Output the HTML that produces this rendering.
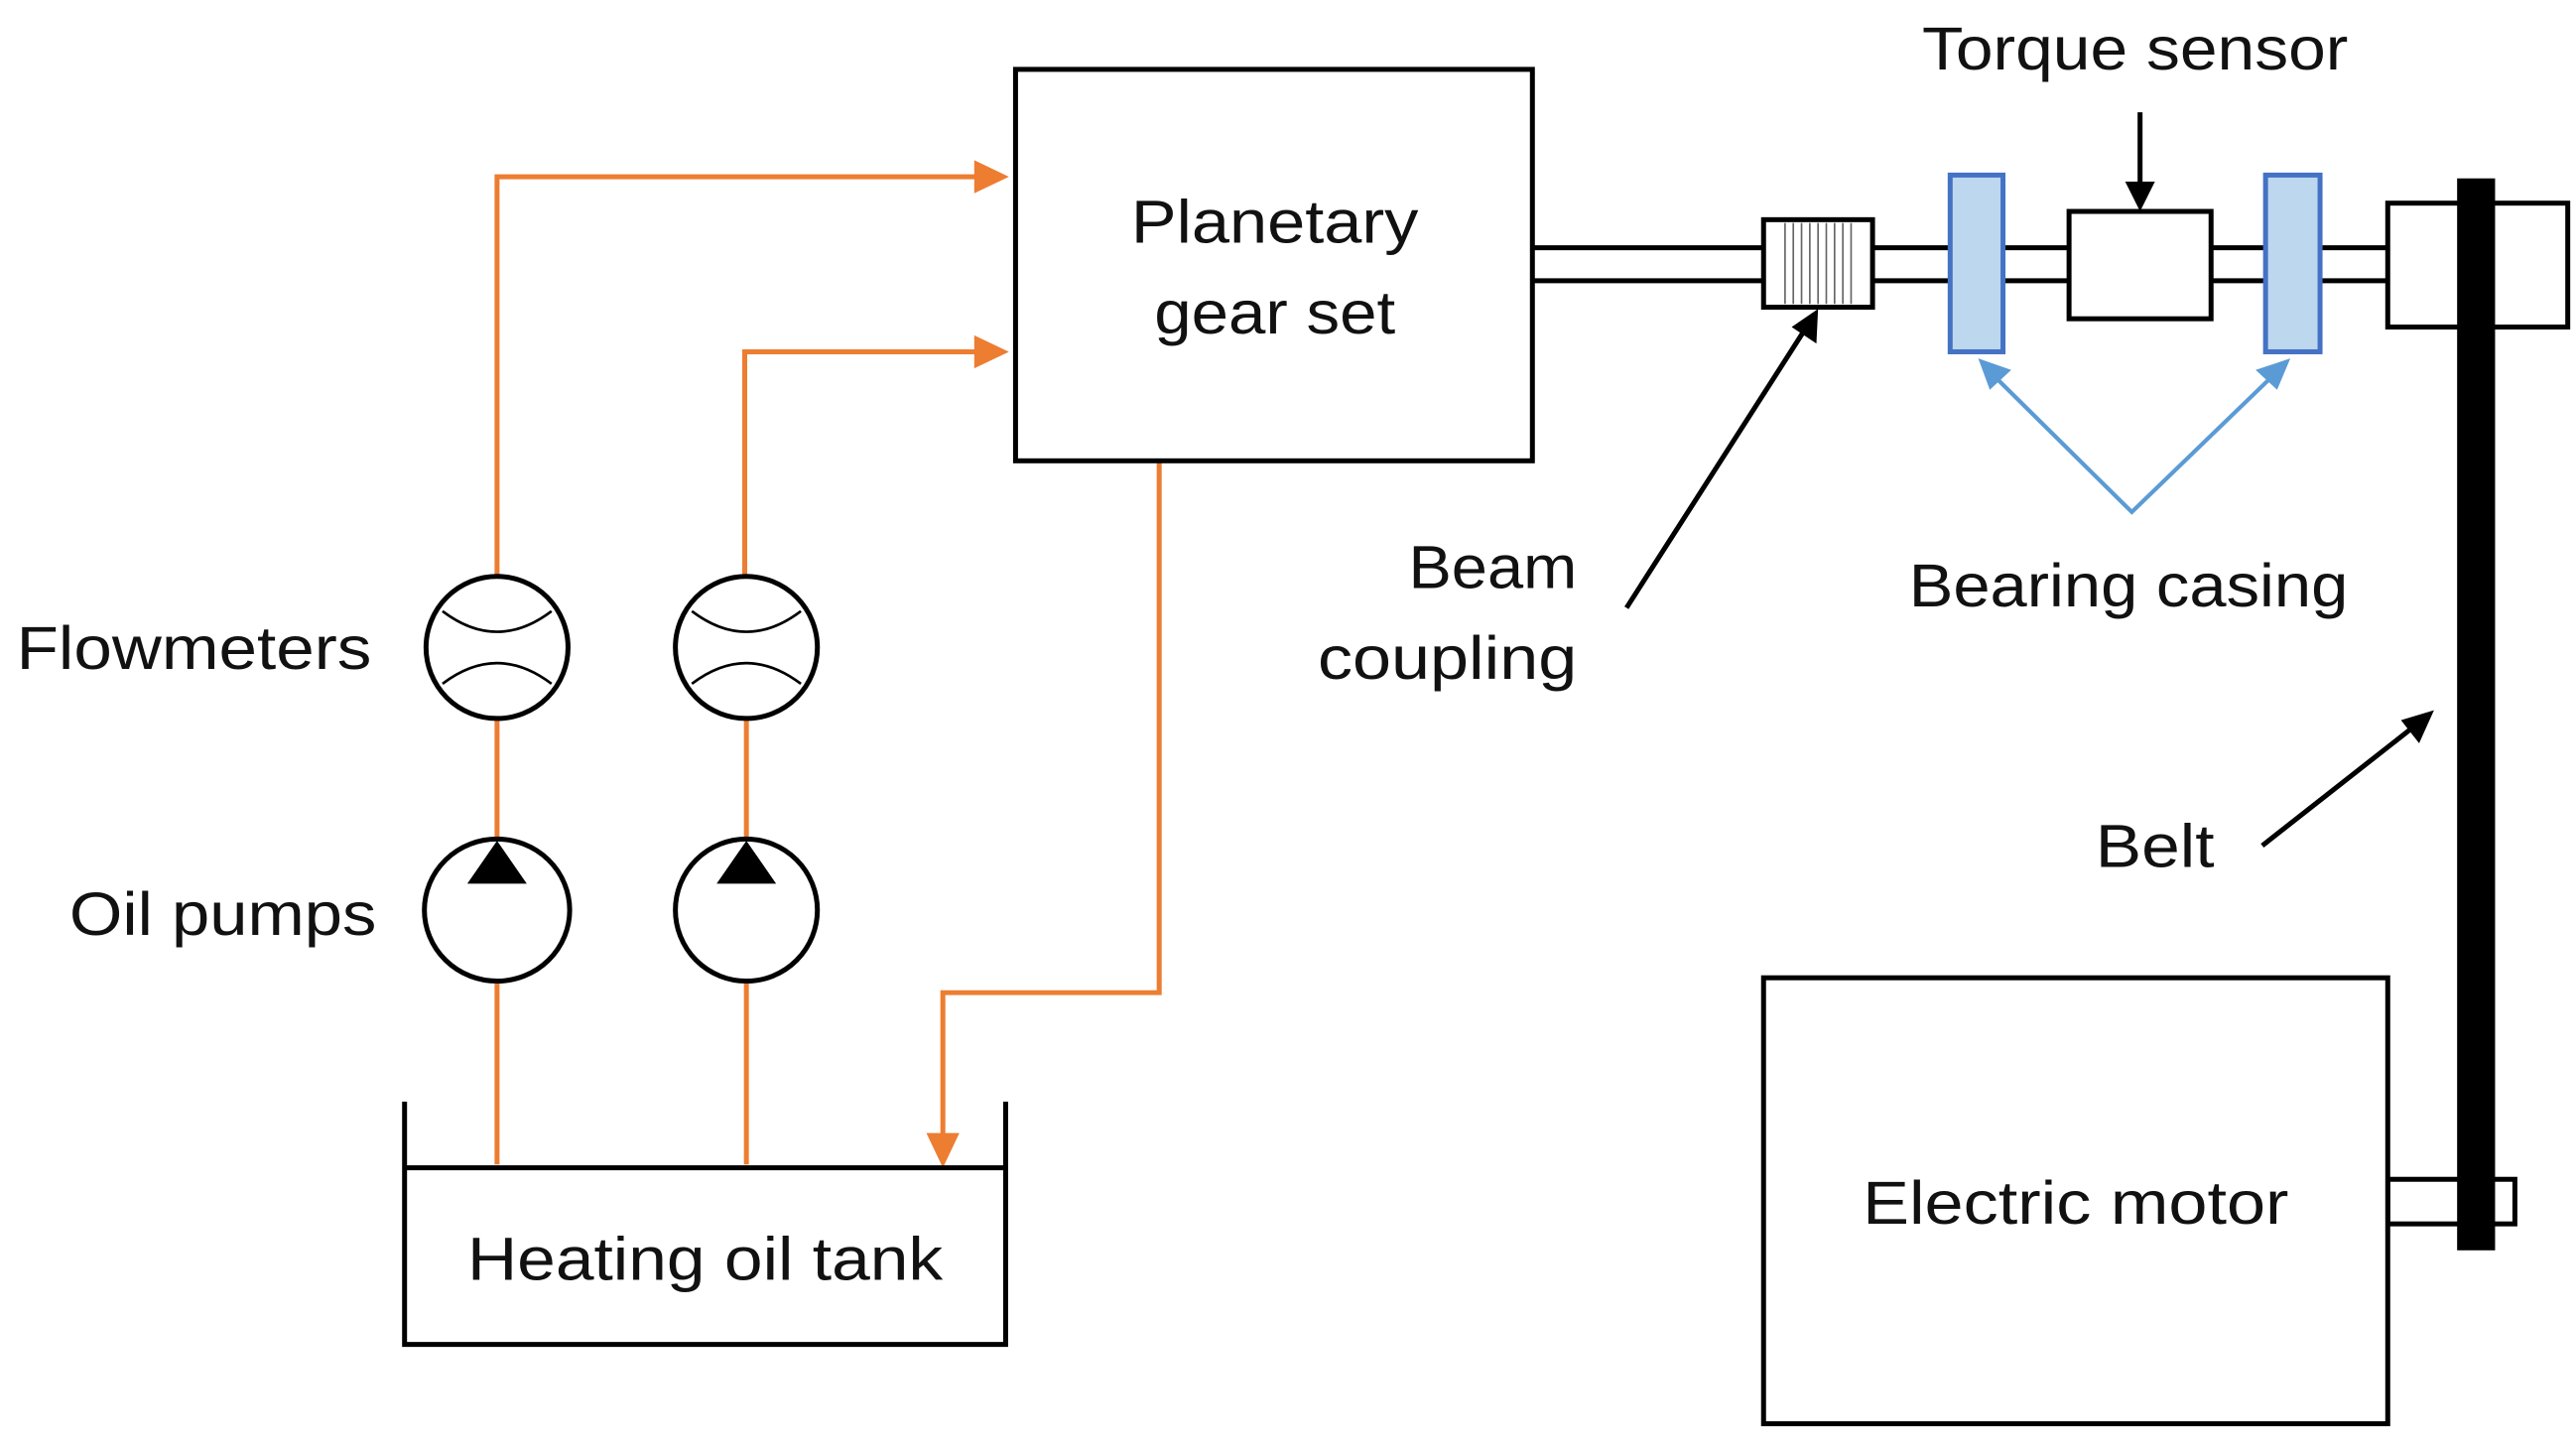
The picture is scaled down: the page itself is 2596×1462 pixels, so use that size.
<!DOCTYPE html>
<html><head><meta charset="utf-8"><style>html,body{margin:0;padding:0;background:#fff}svg{display:block}</style></head>
<body>
<svg width="2596" height="1462" viewBox="0 0 1560 878.5" preserveAspectRatio="none" xmlns="http://www.w3.org/2000/svg" font-family="Liberation Sans, sans-serif" font-size="37" fill="#111">
<rect width="1560" height="879" fill="#fff"/>
<g stroke="#ed7d31" stroke-width="3" fill="none">
<polyline points="301,348 301,107 592,107"/>
<polyline points="451,348 451,213 592,213"/>
<polyline points="702,279 702,601 571,601 571,688"/>
<line x1="301" y1="435" x2="301" y2="507"/>
<line x1="452" y1="435" x2="452" y2="507"/>
<line x1="301" y1="595" x2="301" y2="705"/>
<line x1="452" y1="595" x2="452" y2="705"/>
</g>
<g fill="#ed7d31">
<polygon points="611,107 590,97 590,117"/>
<polygon points="611,213 590,203 590,223"/>
<polygon points="571,707 561,686 581,686"/>
</g>
<rect x="615" y="42" width="313" height="237" fill="none" stroke="#000" stroke-width="3"/>
<text x="772" y="147" text-anchor="middle" textLength="174" lengthAdjust="spacingAndGlyphs">Planetary</text>
<text x="772" y="202" text-anchor="middle" textLength="146" lengthAdjust="spacingAndGlyphs">gear set</text>
<g stroke="#000" stroke-width="3" fill="#fff">
<ellipse cx="301" cy="392" rx="43" ry="43"/>
<ellipse cx="452" cy="392" rx="43" ry="43"/>
<ellipse cx="301" cy="551" rx="44" ry="43"/>
<ellipse cx="452" cy="551" rx="43" ry="43"/>
</g>
<g stroke="#000" stroke-width="1.6" fill="none">
<path d="M268,370 Q301,395 334,370"/><path d="M268,414 Q301,389 334,414"/>
<path d="M419,370 Q452,395 485,370"/><path d="M419,414 Q452,389 485,414"/>
</g>
<polygon points="301,509 283,535 319,535" fill="#000"/>
<polygon points="452,509 434,535 470,535" fill="#000"/>
<text x="225" y="405" text-anchor="end" textLength="215" lengthAdjust="spacingAndGlyphs">Flowmeters</text>
<text x="228" y="566" text-anchor="end" textLength="186" lengthAdjust="spacingAndGlyphs">Oil pumps</text>
<g stroke="#000" stroke-width="3" fill="none">
<polyline points="245,667 245,814 609,814 609,667"/>
<line x1="245" y1="707" x2="609" y2="707"/>
</g>
<text x="427" y="775" text-anchor="middle" textLength="288" lengthAdjust="spacingAndGlyphs">Heating oil tank</text>
<g stroke="#000" stroke-width="3" fill="none">
<line x1="928" y1="150" x2="1446" y2="150"/>
<line x1="928" y1="170" x2="1446" y2="170"/>
</g>
<rect x="1068" y="133" width="66" height="53" fill="#fff" stroke="#000" stroke-width="3"/>
<g stroke="#666" stroke-width="1">
<line x1="1081" y1="135" x2="1081" y2="184"/><line x1="1086" y1="135" x2="1086" y2="184"/><line x1="1091" y1="135" x2="1091" y2="184"/><line x1="1096" y1="135" x2="1096" y2="184"/><line x1="1101" y1="135" x2="1101" y2="184"/><line x1="1106" y1="135" x2="1106" y2="184"/><line x1="1111" y1="135" x2="1111" y2="184"/><line x1="1116" y1="135" x2="1116" y2="184"/><line x1="1121" y1="135" x2="1121" y2="184"/>
</g>
<rect x="1181" y="106" width="32" height="107" fill="#bdd7ee" stroke="#4472c4" stroke-width="3"/>
<rect x="1372" y="106" width="33" height="107" fill="#bdd7ee" stroke="#4472c4" stroke-width="3"/>
<rect x="1253" y="128" width="86" height="65" fill="#fff" stroke="#000" stroke-width="3"/>
<line x1="1296" y1="68" x2="1296" y2="112" stroke="#000" stroke-width="3"/>
<polygon points="1296,128 1287,110 1305,110" fill="#000"/>
<text x="1293" y="42" text-anchor="middle" textLength="258" lengthAdjust="spacingAndGlyphs">Torque sensor</text>
<rect x="1446" y="123" width="109" height="75" fill="#fff" stroke="#000" stroke-width="3"/>
<rect x="1446" y="714" width="77" height="27" fill="#fff" stroke="#000" stroke-width="3"/>
<rect x="1488" y="108" width="23" height="649" fill="#000"/>
<rect x="1068" y="592" width="378" height="270" fill="#fff" stroke="#000" stroke-width="3"/>
<text x="1257" y="741" text-anchor="middle" textLength="258" lengthAdjust="spacingAndGlyphs">Electric motor</text>
<line x1="985" y1="368" x2="1094" y2="198" stroke="#000" stroke-width="3"/>
<polygon points="1101,187 1100,208 1085,198" fill="#000"/>
<text x="955" y="356" text-anchor="end" textLength="102" lengthAdjust="spacingAndGlyphs">Beam</text>
<text x="955" y="411" text-anchor="end" textLength="157" lengthAdjust="spacingAndGlyphs">coupling</text>
<polyline points="1206,226 1291,310 1378,226" fill="none" stroke="#5b9bd5" stroke-width="2.5"/>
<polygon points="1198,217 1218,224 1205,236" fill="#5b9bd5"/>
<polygon points="1387,217 1379,236 1366,224" fill="#5b9bd5"/>
<text x="1289" y="367" text-anchor="middle" textLength="266" lengthAdjust="spacingAndGlyphs">Bearing casing</text>
<line x1="1370" y1="512" x2="1463" y2="439" stroke="#000" stroke-width="3"/>
<polygon points="1474,430 1465,450 1454,436" fill="#000"/>
<text x="1305" y="525" text-anchor="middle" textLength="72" lengthAdjust="spacingAndGlyphs">Belt</text>
</svg>
</body></html>
